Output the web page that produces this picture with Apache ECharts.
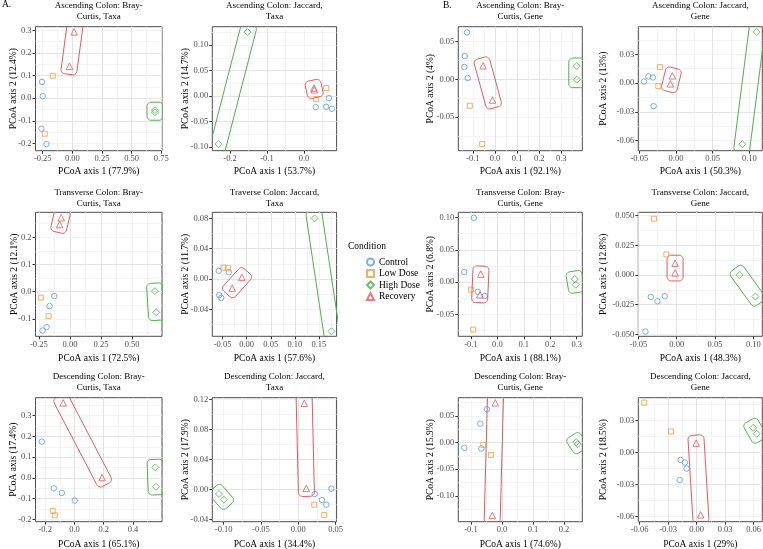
<!DOCTYPE html>
<html><head><meta charset="utf-8">
<script src="https://cdn.jsdelivr.net/npm/echarts@6/dist/echarts.min.js"></script>
<style>html,body{margin:0;padding:0;background:#fff}#c{width:763px;height:549px}</style>
</head><body><div id="c"></div>
<script>
const conditions = ['Control', 'Low Dose', 'High Dose', 'Recovery'];

const panelTitles = [
  'Ascending Colon: Bray-\nCurtis, Taxa', 'Ascending Colon: Jaccard,\nTaxa',
  'Transverse Colon: Bray-\nCurtis, Taxa', 'Traverse Colon: Jaccard,\nTaxa',
  'Descending Colon: Bray-\nCurtis, Taxa', 'Descending Colon: Jaccard,\nTaxa',
  'Ascending Colon: Bray-\nCurtis, Gene', 'Ascending Colon: Jaccard,\nGene',
  'Transverse Colon: Bray-\nCurtis, Gene', 'Transverse Colon: Jaccard,\nGene',
  'Descending Colon: Bray-\nCurtis, Gene', 'Descending Colon: Jaccard,\nGene'
];
const xTitles = ['PCoA axis 1 (77.9%)', 'PCoA axis 1 (53.7%)', 'PCoA axis 1 (72.5%)', 'PCoA axis 1 (57.6%)',
  'PCoA axis 1 (65.1%)', 'PCoA axis 1 (34.4%)', 'PCoA axis 1 (92.1%)', 'PCoA axis 1 (50.3%)',
  'PCoA axis 1 (88.1%)', 'PCoA axis 1 (48.3%)', 'PCoA axis 1 (74.6%)', 'PCoA axis 1 (29%)'];
const yTitles = ['PCoA axis 2 (12.4%)', 'PCoA axis 2 (14.7%)', 'PCoA axis 2 (12.1%)', 'PCoA axis 2 (11.7%)',
  'PCoA axis (17.4%)', 'PCoA axis 2 (17.9%)', 'PCoA axis 2 (4%)', 'PCoA axis 2 (13%)',
  'PCoA axis 2 (6.8%)', 'PCoA axis 2 (12.8%)', 'PCoA axis 2 (15.9%)', 'PCoA axis 2 (18.5%)'];

// axis ranges: [min, max, tick step]
const ascBrayTaxaX = [-0.311, 0.756, 0.25], ascBrayTaxaY = [-0.232, 0.316, 0.1];
const ascJacTaxaX = [-0.248, 0.0882, 0.1], ascJacTaxaY = [-0.107, 0.136, 0.05];
const trBrayTaxaX = [-0.277, 0.74, 0.25], trBrayTaxaY = [-0.164, 0.292, 0.1];
const trJacTaxaX = [-0.0714, 0.1867, 0.05], trJacTaxaY = [-0.0756, 0.088, 0.04];
const deBrayTaxaX = [-0.266, 0.598, 0.2], deBrayTaxaY = [-0.211, 0.387, 0.1];
const deJacTaxaX = [-0.1152, 0.0513, 0.05], deJacTaxaY = [-0.0431, 0.1222, 0.04];
const ascBrayGeneX = [-0.166, 0.395, 0.1], ascBrayGeneY = [-0.0947, 0.0699, 0.05];
const ascJacGeneX = [-0.0514, 0.1177, 0.05], ascJacGeneY = [-0.0704, 0.0588, 0.03];
const trBrayGeneX = [-0.1475, 0.321, 0.1], trBrayGeneY = [-0.084, 0.108, 0.05];
const trJacGeneX = [-0.0502, 0.1117, 0.05], trJacGeneY = [-0.0517, 0.0528, 0.025];
const deBrayGeneX = [-0.1409, 0.259, 0.1], deBrayGeneY = [-0.1485, 0.084, 0.05];
const deJacGeneX = [-0.0614, 0.0691, 0.03], deJacGeneY = [-0.0647, 0.0513, 0.03];

// points [PCoA1, PCoA2]
const ascBrayTaxaControl = [[-0.256, 0.072], [-0.25, 0.009], [-0.261, -0.135], [-0.219, -0.203]];
const ascBrayTaxaLow = [[-0.166, 0.099], [-0.233, -0.157]];
const ascBrayTaxaHigh = [[0.697, -0.053], [0.697, -0.062]];
const ascBrayTaxaRecovery = [[0.015, 0.293], [-0.024, 0.141]];

const ascJacTaxaControl = [[0.0673, -0.0039], [0.0318, -0.0216], [0.06, -0.0209], [0.0755, -0.0248]];
const ascJacTaxaLow = [[0.06, 0.0157], [0.0327, -0.0059]];
const ascJacTaxaHigh = [[-0.1527, 0.1255], [-0.231, -0.094]];
const ascJacTaxaRecovery = [[0.027, 0.0157], [0.028, 0.0124]];

const trBrayTaxaControl = [[-0.126, -0.016], [-0.164, -0.053], [-0.188, -0.130], [-0.220, -0.143]];
const trBrayTaxaLow = [[-0.234, -0.022], [-0.172, -0.090]];
const trBrayTaxaHigh = [[0.683, 0.002], [0.694, -0.076]];
const trBrayTaxaRecovery = [[-0.070, 0.272], [-0.083, 0.247]];

const trJacTaxaControl = [[-0.058, 0.0107], [-0.037, 0.0089], [-0.057, -0.0213], [-0.053, -0.0249]];
const trJacTaxaLow = [[-0.048, 0.0151], [-0.039, 0.0142]];
const trJacTaxaHigh = [[0.141, 0.080], [0.176, -0.069]];
const trJacTaxaRecovery = [[-0.010, 0.0022], [-0.030, -0.012]];

const deBrayTaxaControl = [[-0.223, 0.175], [-0.141, -0.050], [-0.086, -0.072], [0.002, -0.109]];
const deBrayTaxaLow = [[-0.148, -0.159], [-0.134, -0.180]];
const deBrayTaxaHigh = [[0.552, 0.051], [0.557, -0.043]];
const deBrayTaxaRecovery = [[-0.077, 0.362], [0.189, 0.002]];

const deJacTaxaControl = [[0.0219, -0.0062], [0.0442, 0.0009], [0.0317, -0.0142], [0.0375, -0.0204]];
const deJacTaxaLow = [[0.0214, -0.0204], [0.0348, -0.0342]];
const deJacTaxaHigh = [[-0.1063, -0.0062], [-0.0996, -0.0138]];
const deJacTaxaRecovery = [[0.008, 0.1147], [0.0107, 0.0013]];

const ascBrayGeneControl = [[-0.1265, 0.0624], [-0.137, 0.031], [-0.1386, 0.0164], [-0.1235, 0.0018]];
const ascBrayGeneLow = [[-0.114, -0.035], [-0.058, -0.0858]];
const ascBrayGeneHigh = [[0.370, 0.0177], [0.370, -0.0004]];
const ascBrayGeneRecovery = [[-0.0538, 0.018], [-0.0114, -0.0274]];

const ascJacGeneControl = [[-0.0377, 0.007], [-0.0314, 0.0059], [-0.0436, 0.0017], [-0.0305, -0.024]];
const ascJacGeneLow = [[-0.0218, 0.0167], [-0.0241, -0.0031]];
const ascJacGeneHigh = [[0.110, 0.0532], [0.0905, -0.0636]];
const ascJacGeneRecovery = [[-0.005, 0.0076], [-0.0077, -0.0007]];

const trBrayGeneControl = [[-0.0888, 0.0995], [-0.125, 0.0155], [-0.0738, -0.015], [-0.0475, -0.0216]];
const trBrayGeneLow = [[-0.099, -0.0119], [-0.091, -0.0737]];
const trBrayGeneHigh = [[0.2925, 0.0046], [0.296, -0.0041]];
const trBrayGeneRecovery = [[-0.0625, 0.0124], [-0.066, -0.0196]];

const trJacGeneControl = [[-0.0339, -0.0185], [-0.0252, -0.0222], [-0.0157, -0.0179], [-0.0409, -0.0477]];
const trJacGeneLow = [[-0.0296, 0.0474], [-0.0135, 0.0173]];
const trJacGeneHigh = [[0.0822, 0.0], [0.1026, -0.0182]];
const trJacGeneRecovery = [[-0.0022, 0.0099], [-0.0022, 0.0017]];

const deBrayGeneControl = [[-0.0484, 0.0624], [-0.070, 0.0353], [-0.1215, -0.0101], [-0.0667, -0.0113]];
const deBrayGeneLow = [[-0.060, -0.0044], [-0.0355, -0.0233]];
const deBrayGeneHigh = [[0.2398, 0.0006], [0.244, -0.0032]];
const deBrayGeneRecovery = [[-0.0215, 0.0744], [-0.0312, -0.1367]];

const deJacGeneControl = [[-0.0168, -0.0069], [-0.0123, -0.0094], [-0.0105, -0.015], [-0.0179, -0.0257]];
const deJacGeneLow = [[-0.0551, 0.0467], [-0.027, 0.0197]];
const deJacGeneHigh = [[0.0596, 0.0232], [0.0632, 0.0176]];
const deJacGeneRecovery = [[-0.0004, 0.0088], [0.0042, -0.0583]];

const panelGroups = [
  [ascBrayTaxaControl, ascBrayTaxaLow, ascBrayTaxaHigh, ascBrayTaxaRecovery],
  [ascJacTaxaControl, ascJacTaxaLow, ascJacTaxaHigh, ascJacTaxaRecovery],
  [trBrayTaxaControl, trBrayTaxaLow, trBrayTaxaHigh, trBrayTaxaRecovery],
  [trJacTaxaControl, trJacTaxaLow, trJacTaxaHigh, trJacTaxaRecovery],
  [deBrayTaxaControl, deBrayTaxaLow, deBrayTaxaHigh, deBrayTaxaRecovery],
  [deJacTaxaControl, deJacTaxaLow, deJacTaxaHigh, deJacTaxaRecovery],
  [ascBrayGeneControl, ascBrayGeneLow, ascBrayGeneHigh, ascBrayGeneRecovery],
  [ascJacGeneControl, ascJacGeneLow, ascJacGeneHigh, ascJacGeneRecovery],
  [trBrayGeneControl, trBrayGeneLow, trBrayGeneHigh, trBrayGeneRecovery],
  [trJacGeneControl, trJacGeneLow, trJacGeneHigh, trJacGeneRecovery],
  [deBrayGeneControl, deBrayGeneLow, deBrayGeneHigh, deBrayGeneRecovery],
  [deJacGeneControl, deJacGeneLow, deJacGeneHigh, deJacGeneRecovery]
];
const panelX = [ascBrayTaxaX, ascJacTaxaX, trBrayTaxaX, trJacTaxaX, deBrayTaxaX, deJacTaxaX,
  ascBrayGeneX, ascJacGeneX, trBrayGeneX, trJacGeneX, deBrayGeneX, deJacGeneX];
const panelY = [ascBrayTaxaY, ascJacTaxaY, trBrayTaxaY, trJacTaxaY, deBrayTaxaY, deJacTaxaY,
  ascBrayGeneY, ascJacGeneY, trBrayGeneY, trJacGeneY, deBrayGeneY, deJacGeneY];

// ---------- styling / layout ----------
const FONT = 'Liberation Serif';
const COLORS = ['#5E9BD6', '#F39A3C', '#4DB04A', '#E25A5E'];
const SYMBOLS = ['circle', 'rect', 'diamond', 'triangle'];
const SIZES = [5.5, 5, 7, 6.5];
const colLeft = [35.5, 212.3, 458.3, 638.3];
const colWidth = [126.5, 124.3, 124, 124];
const rowTop = [26.7, 212.3, 397.7];
const rowHeight = 124;
const titleShift = [0, 2, 0];
const xNameGap = [16, 17, 17.5];
const yNameGap = [16.8, 21.8, 15.8, 22, 16.7, 21.8, 23.3, 30, 22.5, 30.3, 22.5, 30.3];

function decimals(step) { const s = String(step); return s.indexOf('.') >= 0 ? s.split('.')[1].length : 0; }
function makeFmt(step) {
  const d = decimals(step);
  return function (v) {
    const k = v / step;
    if (Math.abs(k - Math.round(k)) > 1e-6) return '';
    let s = (Math.round(k) * step).toFixed(d);
    if (parseFloat(s) === 0) s = (0).toFixed(d);
    return s;
  };
}
// break values that fall inside [min, max]
function breaks(r) {
  const out = [], d = decimals(r[2]) + 2;
  for (let k = Math.ceil(r[0] / r[2] - 1e-9); k <= Math.floor(r[1] / r[2] + 1e-9); k++) {
    out.push(parseFloat((k * r[2]).toFixed(d)));
  }
  return out;
}
function hullPoints(a, b, e, r) {
  const dx = b[0] - a[0], dy = b[1] - a[1];
  const L = Math.hypot(dx, dy);
  let ux = 0, uy = 1;
  if (L > 1e-6) { ux = dx / L; uy = dy / L; }
  const nx = -uy, ny = ux;
  const k = e - r;
  const pts = [];
  for (let q = 0; q < 4; q++) {
    const mid = (q + 0.5) * Math.PI / 2;
    const su = Math.cos(mid) > 0 ? 1 : -1, sn = Math.sin(mid) > 0 ? 1 : -1;
    const base = su > 0 ? b : a;
    const cx = base[0] + ux * k * su + nx * k * sn;
    const cy = base[1] + uy * k * su + ny * k * sn;
    for (let s = 0; s <= 8; s++) {
      const t = q * Math.PI / 2 + s * Math.PI / 16;
      const c = Math.cos(t), sn2 = Math.sin(t);
      pts.push([cx + r * (ux * c + nx * sn2), cy + r * (uy * c + ny * sn2)]);
    }
  }
  return pts;
}

const grids = [], xMajor = [], yMajor = [], xMinor = [], yMinor = [], series = [], graphics = [];
for (let i = 0; i < 12; i++) {
  const row = i < 6 ? Math.floor(i / 2) : Math.floor((i - 6) / 2);
  const col = i < 6 ? i % 2 : 2 + (i % 2);
  const left = colLeft[col], top = rowTop[row], w = colWidth[col];
  grids.push({ left: left, top: top, width: w, height: rowHeight, show: true,
    outerBoundsMode: 'none', containLabel: false,
    backgroundColor: 'rgba(0,0,0,0)', borderColor: '#4D4D4D', borderWidth: 1 });
  const X = panelX[i], Y = panelY[i];
  const xb = breaks(X), yb = breaks(Y);
  const common = { type: 'value', gridIndex: i, axisLine: { show: false, onZero: false },
    splitLine: { show: true, showMinLine: false, showMaxLine: false, lineStyle: { color: '#E2E2E2', width: 1 } },
    nameLocation: 'middle', nameMoveOverlap: false,
    nameTextStyle: { fontFamily: FONT, fontSize: 9.5, color: '#000' } };
  const labelCommon = { fontFamily: FONT, fontSize: 8.5, color: '#4D4D4D', margin: 4,
    showMinLabel: true, showMaxLabel: true, hideOverlap: false };
  xMajor.push(Object.assign({}, common, { position: 'bottom', min: X[0], max: X[1], minInterval: X[2], maxInterval: X[2],
    name: xTitles[i], nameGap: xNameGap[row],
    axisTick: { show: true, length: 3, customValues: xb, lineStyle: { color: '#333', width: 1 } },
    axisLabel: Object.assign({ customValues: xb, formatter: makeFmt(X[2]) }, labelCommon) }));
  yMajor.push(Object.assign({}, common, { position: 'left', min: Y[0], max: Y[1], minInterval: Y[2], maxInterval: Y[2],
    name: yTitles[i], nameGap: yNameGap[i],
    axisTick: { show: true, length: 3, customValues: yb, lineStyle: { color: '#333', width: 1 } },
    axisLabel: Object.assign({ customValues: yb, formatter: makeFmt(Y[2]) }, labelCommon) }));
  const minorCommon = { type: 'value', gridIndex: i, axisLine: { show: false, onZero: false }, axisTick: { show: false },
    axisLabel: { show: false },
    splitLine: { show: true, showMinLine: false, showMaxLine: false, lineStyle: { color: '#F0F0F0', width: 0.8 } } };
  xMinor.push(Object.assign({}, minorCommon, { position: 'top', min: X[0], max: X[1], minInterval: X[2] / 2, maxInterval: X[2] / 2 }));
  yMinor.push(Object.assign({}, minorCommon, { position: 'right', min: Y[0], max: Y[1], minInterval: Y[2] / 2, maxInterval: Y[2] / 2 }));

  const groups = panelGroups[i];
  const ax = 12 + i; // major axes come after the minor ones
  [2, 3].forEach(function (ci) {
    const g = groups[ci];
    series.push({ type: 'custom', name: 'hull' + i + '_' + ci, xAxisIndex: ax, yAxisIndex: ax,
      clip: true, silent: true, data: [[g[0][0], g[0][1], g[1][0], g[1][1]]],
      encode: { x: [0, 2], y: [1, 3] },
      renderItem: function (params, api) {
        const a = api.coord([api.value(0), api.value(1)]);
        const b = api.coord([api.value(2), api.value(3)]);
        return { type: 'polygon', shape: { points: hullPoints(a, b, 8, 4) },
          style: { fill: 'none', stroke: COLORS[ci], lineWidth: 1 } };
      } });
  });
  conditions.forEach(function (c, ci) {
    series.push({ type: 'scatter', name: c, xAxisIndex: ax, yAxisIndex: ax, data: groups[ci],
      symbol: SYMBOLS[ci], symbolSize: SIZES[ci], silent: true,
      itemStyle: { color: 'rgba(0,0,0,0)', borderColor: COLORS[ci], borderWidth: 1 },
      emphasis: { disabled: true } });
  });
  graphics.push({ type: 'text', x: left + w / 2, y: top - 27 + titleShift[row], z: 10,
    style: { text: panelTitles[i], fontFamily: FONT, fontSize: 9, lineHeight: 11,
      textAlign: 'center', textVerticalAlign: 'top', fill: '#000' } });
}
graphics.push({ type: 'text', x: 2, y: 4.5, style: { text: 'A.', fontFamily: FONT, fontSize: 9.5, textVerticalAlign: 'middle', fill: '#000' } });
graphics.push({ type: 'text', x: 443, y: 5, style: { text: 'B.', fontFamily: FONT, fontSize: 9.5, textVerticalAlign: 'middle', fill: '#000' } });
graphics.push({ type: 'text', x: 348, y: 246, style: { text: 'Condition', fontFamily: FONT, fontSize: 9.5, textVerticalAlign: 'middle', fill: '#000' } });

const chart = echarts.init(document.getElementById('c'), null, { renderer: 'canvas' });
chart.setOption({
  animation: false,
  backgroundColor: '#fff',
  grid: grids,
  xAxis: xMinor.concat(xMajor),
  yAxis: yMinor.concat(yMajor),
  legend: { orient: 'vertical', left: 361, top: 252, itemWidth: 7, itemHeight: 7, itemGap: 1.5,
    selectedMode: false,
    textStyle: { fontFamily: FONT, fontSize: 9.5, color: '#000' },
    data: conditions.map(function (c, ci) { return { name: c, icon: SYMBOLS[ci] }; }) },
  series: series,
  graphic: graphics
});
</script></body></html>
